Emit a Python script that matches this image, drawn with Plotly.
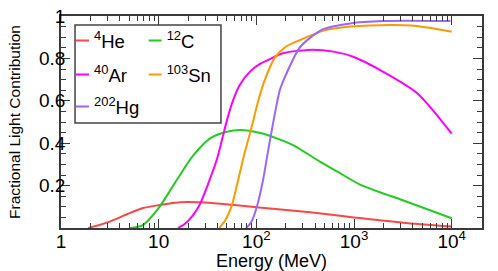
import plotly.graph_objects as go

# ---- data ----
he_E = [1.9, 3.16, 4.8, 6.9, 10.2, 14.0, 19.5, 27.0, 43.0, 100.0, 355.0, 1000.0, 3160.0, 10000.0]
he_f = [0.0, 0.03, 0.066, 0.094, 0.108, 0.118, 0.123, 0.121, 0.114, 0.098, 0.074, 0.05, 0.025, 0.007]

c_E = [5.1, 6.9, 10.2, 15.5, 22.4, 33.9, 50.0, 68.0, 110.0, 162.0, 240.0, 447.0, 676.0, 1150.0, 3470.0, 10000.0]
c_f = [0.0, 0.014, 0.10, 0.23, 0.34, 0.424, 0.454, 0.462, 0.448, 0.423, 0.39, 0.313, 0.266, 0.205, 0.124, 0.046]

ar_E = [15.8, 18.6, 22.4, 26.3, 31.6, 39.8, 44.7, 50.1, 57.5, 67.6, 87.1, 110.0, 129.0, 186.0, 339.0, 617.0, 977.0, 1995.0, 4467.0, 10000.0]
ar_f = [0.0, 0.02, 0.06, 0.11, 0.20, 0.33, 0.42, 0.51, 0.60, 0.675, 0.74, 0.775, 0.79, 0.824, 0.84, 0.832, 0.808, 0.737, 0.635, 0.445]

sn_E = [41.7, 47.9, 56.2, 63.1, 75.9, 87.1, 104.7, 120.2, 155.0, 200.0, 282.0, 479.0, 912.0, 2344.0, 4365.0, 10000.0]
sn_f = [0.0, 0.035, 0.108, 0.20, 0.355, 0.455, 0.60, 0.69, 0.805, 0.855, 0.887, 0.93, 0.95, 0.958, 0.953, 0.926]

hg_E = [78.5, 89.1, 101.2, 117.5, 134.9, 173.8, 199.5, 282.0, 479.0, 912.0, 1995.0, 9700.0]
hg_f = [0.0, 0.03, 0.10, 0.23, 0.39, 0.65, 0.72, 0.855, 0.937, 0.965, 0.976, 0.976]

names = ["<sup>4</sup>He", "<sup>12</sup>C", "<sup>40</sup>Ar", "<sup>103</sup>Sn", "<sup>202</sup>Hg"]
energies = [he_E, c_E, ar_E, sn_E, hg_E]
fractions = [he_f, c_f, ar_f, sn_f, hg_f]
colors = ["#ff4545", "#22cc22", "#ff00ff", "#ff9900", "#9966ff"]

x_tickvals = [1, 10, 100, 1000, 10000]
x_ticktext = ["1", "10", "10<sup>2</sup>", "10<sup>3</sup>", "10<sup>4</sup>"]
y_tickvals = [0.2, 0.4, 0.6, 0.8, 1.0]
y_ticktext = ["0.2", "0.4", "0.6", "0.8", "1"]

FONT = "Liberation Sans, Arial, Helvetica, sans-serif"
AXC = "#3a3a3a"

# legend placement (paper coords): two columns, three rows
leg_ids = ["legend", "legend2", "legend3", "legend4", "legend5"]
leg_x = [-0.0166, 0.156, -0.0166, 0.156, -0.0166]
leg_y = [0.882, 0.882, 0.722, 0.722, 0.571]

fig = go.Figure()
for name, E, f, col in zip(names, energies, fractions, colors):
    fig.add_trace(go.Scatter(x=E, y=f, mode="lines", line=dict(color=col, width=2, shape="spline", smoothing=0.7),
                             showlegend=False, hoverinfo="skip"))
for name, col, lg in zip(names, colors, leg_ids):
    fig.add_trace(go.Scatter(x=[None], y=[None], mode="lines", name=name, legend=lg,
                             line=dict(color=col, width=2, dash="0px,17px,14px,300px"), showlegend=True))

axis_common = dict(showline=True, linecolor=AXC, linewidth=1.6, mirror="ticks", ticks="inside",
                   tickcolor=AXC, tickwidth=1.2, ticklen=9, showgrid=False, zeroline=False, automargin=False,
                   tickfont=dict(family=FONT, size=19, color="black"))

legends = {}
for lg, lx, ly in zip(leg_ids, leg_x, leg_y):
    legends[lg] = dict(x=lx, y=ly, xanchor="left", yanchor="middle", bgcolor="rgba(0,0,0,0)",
                       borderwidth=0, font=dict(family=FONT, size=18.5))

fig.update_layout(
    width=498, height=271,
    margin=dict(l=61, r=16, t=16, b=43, autoexpand=False),
    paper_bgcolor="white", plot_bgcolor="white",
    font=dict(family=FONT, size=15, color="black"),
    xaxis=dict(type="log", range=[0, 4.31], tickvals=x_tickvals, ticktext=x_ticktext, ticklabelstandoff=-5,
               title=dict(text="Energy (MeV)", font=dict(family=FONT, size=18), standoff=0),
               minor=dict(ticks="inside", ticklen=5, tickcolor=AXC, tickwidth=1, dtick="D1", showgrid=False),
               **axis_common),
    yaxis=dict(range=[0, 1], tickvals=y_tickvals, ticktext=y_ticktext, ticklabelstandoff=-10,
               title=dict(text="Fractional Light Contribution", font=dict(family=FONT, size=15.5), standoff=15),
               minor=dict(ticks="inside", ticklen=5, tickcolor=AXC, tickwidth=1, dtick=0.05, showgrid=False),
               **axis_common),
    shapes=[dict(type="rect", xref="paper", yref="paper", x0=0.0333, x1=0.380, y0=0.495, y1=0.9575,
                 line=dict(color="#444444", width=1.5), fillcolor="rgba(0,0,0,0)", layer="above")],
    **legends,
)

fig.write_html("out.html", config={"displayModeBar": False},
               post_script="document.body.style.margin='0';document.body.style.overflow='hidden';")
